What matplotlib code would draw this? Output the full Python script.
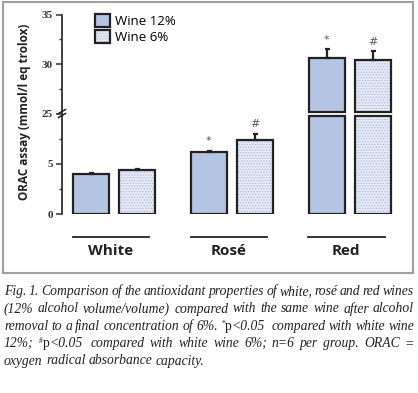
import numpy as np
import matplotlib
matplotlib.use('Agg')
import matplotlib.pyplot as plt
from matplotlib.patches import Patch, Rectangle
from matplotlib.legend_handler import HandlerTuple
from matplotlib.lines import Line2D

# dados
groups = ['White', 'Rosé', 'Red']
wine12 = [4.0, 6.2, 30.6]
wine12_err = [0.1, 0.1, 0.9]
wine6 = [4.4, 7.4, 30.4]
wine6_err = [0.1, 0.6, 0.9]
sig12 = ['', '*', '*']
sig6 = ['', '#', '#']
series_labels = ['Wine 12%', 'Wine 6%']

caption = [
    "Fig. 1. Comparison of the antioxidant properties of white, rosé and red wines",
    "(12% alcohol volume/volume) compared with the same wine after alcohol",
    "removal to a final concentration of 6%. *p<0.05 compared with white wine",
    "12%; #p<0.05 compared with white wine 6%; n=6 per group. ORAC =",
    "oxygen radical absorbance capacity.",
]

W, H = 418, 393
fig = plt.figure(figsize=(W / 100, H / 100), dpi=100)

c12 = '#b6c4e3'
c6 = '#e6ebf5'
c6_dots = '#a9b8da'
edge = '#222222'
plt.rcParams['hatch.linewidth'] = 0.6

left = 62 / W
width = 342 / W
ax_lo = fig.add_axes([left, (H - 214) / H, width, 100.5 / H])
ax_hi = fig.add_axes([left, (H - 113.5) / H, width, 99 / H])
ax_lo.set_ylim(0, 10)
ax_hi.set_ylim(25, 35)
xlim = (-0.44, 2.46)

x = np.arange(len(groups))
off = 0.195
bw = 0.305
v12 = np.array(wine12)
v6 = np.array(wine6)
cut_lo = 9.75
cut_hi = 25.15

def draw_bars(ax, xs, bottom, height, dotted):
    if dotted:
        ax.bar(xs, height, bw, bottom=bottom, color=c6, hatch='......',
               edgecolor=c6_dots, linewidth=0)
    else:
        ax.bar(xs, height, bw, bottom=bottom, color=c12, linewidth=0)
    ax.bar(xs, height, bw, bottom=bottom, fill=False, edgecolor=edge, linewidth=1.6)

# parte de baixo
draw_bars(ax_lo, x - off, 0, np.minimum(v12, cut_lo), False)
draw_bars(ax_lo, x + off, 0, np.minimum(v6, cut_lo), True)
# parte de cima (so barras que passam do corte)
m12 = v12 > cut_hi
m6 = v6 > cut_hi
draw_bars(ax_hi, (x - off)[m12], cut_hi, v12[m12] - cut_hi, False)
draw_bars(ax_hi, (x + off)[m6], cut_hi, v6[m6] - cut_hi, True)

for ax in (ax_lo, ax_hi):
    ax.errorbar(x - off, v12, yerr=[np.zeros(3), wine12_err], fmt='none',
                ecolor=edge, elinewidth=1.6, capsize=1.8, capthick=1.6)
    ax.errorbar(x + off, v6, yerr=[np.zeros(3), wine6_err], fmt='none',
                ecolor=edge, elinewidth=1.6, capsize=1.8, capthick=1.6)
    ax.set_xlim(*xlim)
    for s in ['top', 'right', 'bottom']:
        ax.spines[s].set_visible(False)
    ax.spines['left'].set_color('#333333')
    ax.spines['left'].set_linewidth(1.3)
    ax.set_xticks([])
    ax.patch.set_alpha(0)
    ax.tick_params(axis='y', which='major', length=4, width=1.1, color='#333333',
                   labelsize=8, labelcolor='#333333', pad=2.5)
    ax.tick_params(axis='y', which='minor', length=2.5, width=1.0, color='#333333')

ax_lo.set_yticks([0, 5])
ax_lo.set_yticks([2.5, 7.5], minor=True)
ax_hi.set_yticks([25, 30, 35])
ax_hi.set_yticks([27.5, 32.5], minor=True)
for ax in (ax_lo, ax_hi):
    for lab in ax.get_yticklabels():
        lab.set_family('Liberation Serif')
        lab.set_weight('bold')

# simbolos de significancia
for i in range(len(groups)):
    for xs, v, e, s in [(x[i] - off, v12[i], wine12_err[i], sig12[i]),
                        (x[i] + off, v6[i], wine6_err[i], sig6[i])]:
        if not s:
            continue
        ax = ax_hi if v > 25 else ax_lo
        ax.text(xs, v + e + 0.95, s, ha='center', va='center', fontsize=8,
                color='#555555', family='DejaVu Sans')

# linhas e nomes dos grupos
for i, g in enumerate(groups):
    ax_lo.add_line(Line2D([x[i] - 0.35, x[i] + 0.3], [-0.23, -0.23], color='#222222',
                          linewidth=1.3, transform=ax_lo.get_xaxis_transform(),
                          clip_on=False))
    ax_lo.text(x[i] - 0.03, -0.37, g, ha='center', va='center', fontsize=11,
               fontweight='bold', family='Open Sans', color='#222222',
               transform=ax_lo.get_xaxis_transform())

# marca de quebra no eixo
for dy in (-2, 2):
    fig.add_artist(Line2D([(left * W - 3.5) / W, (left * W + 3.5) / W],
                          [(H - 113.5 + dy - 2) / H, (H - 113.5 + dy + 2) / H],
                          color='#222222', linewidth=1.1))

fig.text(25 / W, 1 - 112 / H, 'ORAC assay (mmol/l eq trolox)', rotation=90,
         ha='center', va='center', fontsize=8.5, fontweight='bold',
         family='Open Sans', color='#222222')

# legenda
h12 = (Patch(facecolor=c12, linewidth=0), Patch(fill=False, edgecolor=edge, linewidth=1.6))
h6 = (Patch(facecolor=c6, hatch='......', edgecolor=c6_dots, linewidth=0),
      Patch(fill=False, edgecolor=edge, linewidth=1.6))
fig.legend([h12, h6], series_labels, handler_map={tuple: HandlerTuple(ndivide=1, pad=0)},
           loc='upper left', bbox_to_anchor=(92 / W, 1 - 11 / H), frameon=False,
           prop={'family': 'Open Sans', 'size': 9.5}, handlelength=1.15,
           handleheight=1.15, handletextpad=0.4, labelspacing=0.15,
           borderpad=0.2, borderaxespad=0)

# moldura cinza
fig.add_artist(Rectangle((3 / W, 1 - 273 / H), 410 / W, 271 / H, fill=False,
                         edgecolor='#a0a0a0', linewidth=1.5,
                         transform=fig.transFigure))

# legenda da figura (justificada)
renderer = fig.canvas.get_renderer()
cap_font = dict(family='Liberation Serif', fontsize=9.8, color='#222222', va='baseline')
baselines = [295, 312.5, 330, 347, 364.5]

def text_width(s, **kw):
    opts = dict(cap_font)
    opts.update(kw)
    t = fig.text(0, 0, s, **opts)
    wd = t.get_window_extent(renderer).width
    t.remove()
    return wd

def make_word(w):
    parts = []
    if w.startswith('*') or w.startswith('#'):
        parts.append((w[0], dict(fontsize=5.5, style='normal'), 4))
        parts.append(('p', dict(style='normal'), 0))
        parts.append((w[2:], dict(style='italic'), 0))
    else:
        parts.append((w, dict(style='italic'), 0))
    return parts

x0, x1 = 4, 414
for k, line in enumerate(caption):
    words = line.split(' ')
    full = text_width(line, style='italic')
    n = len(words)
    extra = (x1 - x0 - full) / (n - 1) if k < len(caption) - 1 else 0
    for i, w in enumerate(words):
        # inicio da palavra = fim do prefixo - largura da palavra
        start = text_width(' '.join(words[:i + 1]), style='italic') - text_width(w, style='italic')
        xx = x0 + start + i * extra
        for txt, kw, rise in make_word(w):
            opts = dict(cap_font)
            opts.update(kw)
            t = fig.text(xx / W, 1 - (baselines[k] - rise) / H, txt, **opts)
            xx += t.get_window_extent(renderer).width

fig.savefig('out.png', dpi=100)
